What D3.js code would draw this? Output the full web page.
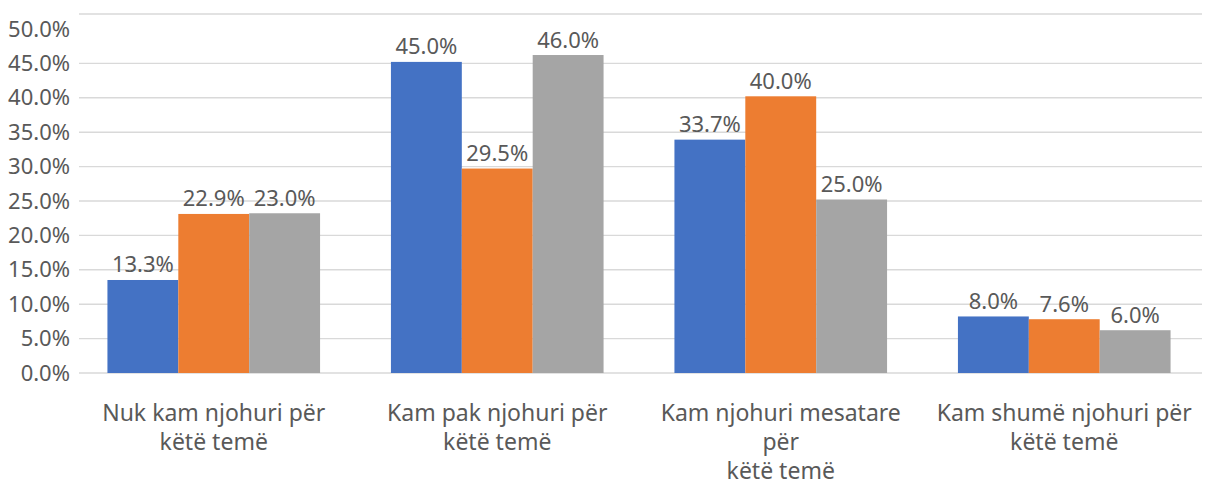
<!DOCTYPE html>
<html>
<head>
<meta charset="utf-8">
<script src="https://cdn.jsdelivr.net/npm/d3@7"></script>
<style>
  body { margin: 0; background: #fff; }
  svg text { font-family: "Noto Sans", "Open Sans", sans-serif; fill: #595959; }
</style>
</head>
<body>
<svg id="chart" width="1213" height="485"></svg>
<script>
// chart data
const categories = [
  ["Nuk kam njohuri për", "këtë temë"],
  ["Kam pak njohuri për", "këtë temë"],
  ["Kam njohuri mesatare", "për", "këtë temë"],
  ["Kam shumë njohuri për", "këtë temë"]
];
const seriesNames = ["s1", "s2", "s3"];
const seriesColors = ["#4472C4", "#ED7D31", "#A5A5A5"];
const series1 = [13.3, 45.0, 33.7, 8.0];
const series2 = [22.9, 29.5, 40.0, 7.6];
const series3 = [23.0, 46.0, 25.0, 6.0];
const yTicks = [0, 5, 10, 15, 20, 25, 30, 35, 40, 45, 50];

const values = [series1, series2, series3];

const svg = d3.select("#chart");
const gridLeft = 79, gridRight = 1202, frameTop = 14;

const x0 = d3.scaleBand().domain(d3.range(categories.length)).range([72, 1206]).padding(0);
const x1 = d3.scaleBand().domain(d3.range(seriesNames.length))
  .range([0, x0.bandwidth()]).paddingInner(0).paddingOuter(0.5);
const y = d3.scaleLinear().domain([0, 50]).range([373, 29]);

// gridlines (the 50% line sits under the top frame line in the original)
svg.append("g").selectAll("line").data(yTicks.filter(t => t < 50)).join("line")
  .attr("x1", gridLeft).attr("x2", gridRight)
  .attr("y1", d => y(d)).attr("y2", d => y(d))
  .attr("stroke", "#d9d9d9").attr("stroke-width", 1.4);
svg.append("line")
  .attr("x1", gridLeft).attr("x2", gridRight)
  .attr("y1", frameTop).attr("y2", frameTop)
  .attr("stroke", "#d9d9d9").attr("stroke-width", 1.4);

// y axis labels
const yAxis = d3.axisLeft(y).tickValues(yTicks).tickSize(0).tickPadding(0)
  .tickFormat(d => d.toFixed(1) + "%");
const ya = svg.append("g").attr("transform", `translate(${gridLeft - 9},0)`).call(yAxis);
ya.select(".domain").remove();
ya.selectAll("text").style("font-size", "22px").attr("fill", "#595959")
  .style("font-family", '"Noto Sans", sans-serif');

// bars
const groups = svg.append("g").selectAll("g").data(categories).join("g")
  .attr("transform", (d, i) => `translate(${x0(i)},0)`);

groups.each(function (c, ci) {
  const g = d3.select(this);
  const row = values.map((s, si) => ({ si, v: s[ci] }));
  g.selectAll("rect").data(row).join("rect")
    .attr("x", d => x1(d.si)).attr("width", x1.bandwidth())
    .attr("y", d => y(d.v) - 1.5).attr("height", d => y(0) - y(d.v) + 1.5)
    .attr("fill", d => seriesColors[d.si]);
  g.selectAll("text.val").data(row).join("text").attr("class", "val")
    .attr("x", d => x1(d.si) + x1.bandwidth() / 2)
    .attr("y", d => y(d.v) - 9)
    .attr("text-anchor", "middle")
    .style("font-size", "22px")
    .text(d => d.v.toFixed(1) + "%");
});

// category labels
const xl = svg.append("g").selectAll("text").data(categories).join("text")
  .attr("text-anchor", "middle")
  .attr("x", (d, i) => x0(i) + x0.bandwidth() / 2)
  .attr("y", 421)
  .style("font-size", "23px");
xl.selectAll("tspan").data(d => d).join("tspan")
  .attr("x", function () { return d3.select(this.parentNode).attr("x"); })
  .attr("dy", (d, i) => i === 0 ? 0 : 29)
  .text(d => d);
</script>
</body>
</html>
